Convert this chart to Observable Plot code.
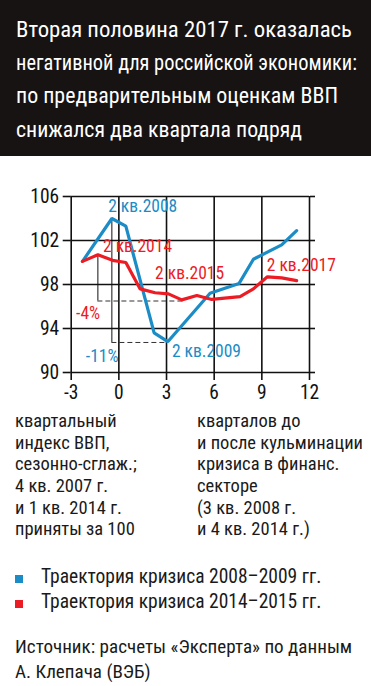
<!DOCTYPE html>
<html><head><meta charset="utf-8">
<script src="https://cdn.jsdelivr.net/npm/d3@7"></script>
<script src="https://cdn.jsdelivr.net/npm/@observablehq/plot@0.6"></script>
<style>
body{margin:0;background:#fff;width:371px;height:686px;overflow:hidden;position:relative;font-family:"Roboto Condensed","DejaVu Sans Condensed",sans-serif;color:#1a1a1a}
#head{position:absolute;left:0;top:0;width:371px;height:156px;background:#171313;}
#title{position:absolute;left:16px;top:12.7px;color:#fff;font-size:22.5px;line-height:33.3px;white-space:nowrap}
#title span{display:inline-block;transform-origin:0 50%}
#chart{position:absolute;left:0;top:160px}
#chart svg text{font-family:"Roboto Condensed","DejaVu Sans Condensed",sans-serif}
.notes{position:absolute;top:410.8px;font-size:18.5px;line-height:21.7px;white-space:nowrap}
#legend{position:absolute;left:15px;top:563.8px;font-size:19.5px;line-height:25px;white-space:nowrap}
#legend .sw{display:inline-block;width:8px;height:8px;margin-right:18px}
#source{position:absolute;left:15px;top:634px;font-size:19.1px;line-height:25px;white-space:nowrap}
</style></head>
<body>
<div id="head"><div id="title"></div></div>
<div id="chart"></div>
<div class="notes" id="noteL" style="left:15px"></div>
<div class="notes" id="noteR" style="left:197px"></div>
<div id="legend"></div>
<div id="source"></div>
<script>
// ---- data ----
const titleLines = ["Вторая половина 2017 г. оказалась","негативной для российской экономики:","по предварительным оценкам ВВП","снижался два квартала подряд"];
const noteLeft = ["квартальный","индекс ВВП,","сезонно-сглаж.;","4 кв. 2007 г.","и 1 кв. 2014 г.","приняты за 100"];
const noteRight = ["кварталов до","и после кульминации","кризиса в финанс.","секторе","(3 кв. 2008 г.","и 4 кв. 2014 г.)"];
const seriesNames = ["Траектория кризиса 2008–2009 гг.","Траектория кризиса 2014–2015 гг."];
const sourceLines = ["Источник: расчеты «Эксперта» по данным","А. Клепача (ВЭБ)"];

const xTicks = [-3, 0, 3, 6, 9, 12];
const yTicks = [90, 94, 98, 102, 106];

const blueX = [-2.29, -0.44, 0.44, 2.22, 3.08, 5.74, 7.57, 8.47, 10.25, 11.19];
const blueY = [100.1, 104.0, 103.3, 93.6, 92.8, 97.2, 98.1, 100.3, 101.6, 102.9];
const redX = [-2.29, -1.32, -0.40, 0.44, 1.34, 2.28, 3.12, 3.96, 4.91, 5.85, 7.63, 8.47, 9.35, 10.25, 11.19];
const redY = [100.1, 100.7, 100.2, 100.0, 97.6, 97.25, 97.15, 96.6, 97.0, 96.64, 96.9, 97.6, 98.7, 98.6, 98.35];

const labelText = ["2 кв.2008", "2 кв.2014", "2 кв.2015", "2 кв.2017", "-4%", "-11%", "2 кв.2009"];
const labelX = [-0.67, -1.0, 2.28, 9.31, -2.69, -2.08, 3.34];
const labelY = [104.57, 101.0, 98.52, 99.27, 94.88, 90.94, 91.45];
const labelSeries = [0, 1, 1, 1, 1, 0, 0];

const dropX = [-1.32, -0.44];
const dropTop = [100.7, 104.0];
const dropBottom = [96.5, 92.73];
const dashEnd = [4.06, 3.08];

// ---- layout / style ----
const colors = ["#1b8cc6", "#ec1c24"];
const FONT = '"Roboto Condensed","DejaVu Sans Condensed",sans-serif';
const titleWidths = [336, 341, 322, 286];

document.getElementById("title").innerHTML = titleLines.map(t => `<span>${t}</span>`).join("<br>");
document.querySelectorAll("#title span").forEach((s, i) => {
  const w = s.getBoundingClientRect().width;
  s.style.transform = `scaleX(${titleWidths[i] / w})`;
});
document.getElementById("noteL").innerHTML = noteLeft.join("<br>");
document.getElementById("noteR").innerHTML = noteRight.join("<br>");
document.getElementById("legend").innerHTML = seriesNames.map((s,i)=>`<div><span class="sw" style="background:${colors[i]}"></span>${s}</div>`).join("");
document.getElementById("source").innerHTML = sourceLines.join("<br>");

const blueData = blueX.map((x,i)=>({x, y: blueY[i]}));
const redData = redX.map((x,i)=>({x, y: redY[i]}));
const labels = labelText.map((t,i)=>({t, x: labelX[i], y: labelY[i], c: colors[labelSeries[i]]}));
const drops = dropX.map((x,i)=>({x, y1: dropTop[i], y2: dropBottom[i], x2: dashEnd[i]}));

const gridStyle = {stroke:"#111", strokeOpacity:1, strokeWidth:1.6};
const chart = Plot.plot({
  width: 371, height: 250,
  marginLeft: 70.7, marginRight: 62, marginTop: 36, marginBottom: 38,
  x: {domain: [-3, 12]},
  y: {domain: [90, 106]},
  style: `font-family:${FONT};font-size:18px;color:#111;background:transparent;overflow:visible`,
  marks: [
    Plot.gridX(xTicks, gridStyle),
    Plot.gridY(yTicks, gridStyle),
    Plot.axisY(yTicks, {tickSize: 8, tickPadding: 4, tickFormat: d => String(d), label: null, strokeWidth: 1.6, fontSize: 19.5, fontFamily: FONT}),
    Plot.axisY(yTicks, {anchor: "right", tickSize: 5, tickFormat: () => "", label: null, strokeWidth: 1.6}),
    Plot.axisX(xTicks, {tickSize: 8, tickPadding: 5, tickFormat: d => String(d), label: null, strokeWidth: 1.6, fontSize: 19.5, fontFamily: FONT}),
    Plot.ruleX(drops, {x: "x", y1: "y1", y2: "y2", stroke: "#111", strokeWidth: 1}),
    Plot.ruleY(drops, {y: "y2", x1: "x", x2: "x2", stroke: "#333", strokeWidth: 1, strokeDasharray: "5,3"}),
    Plot.line(blueData, {x: "x", y: "y", stroke: colors[0], strokeWidth: 3.2, strokeLinejoin: "miter"}),
    Plot.line(redData, {x: "x", y: "y", stroke: colors[1], strokeWidth: 3.2, strokeLinejoin: "miter"}),
    Plot.text(labels, {x: "x", y: "y", text: "t", fill: "c", textAnchor: "start", lineAnchor: "bottom", fontSize: 17.5, fontFamily: FONT})
  ]
});
document.getElementById("chart").appendChild(chart);
</script>
</body></html>
